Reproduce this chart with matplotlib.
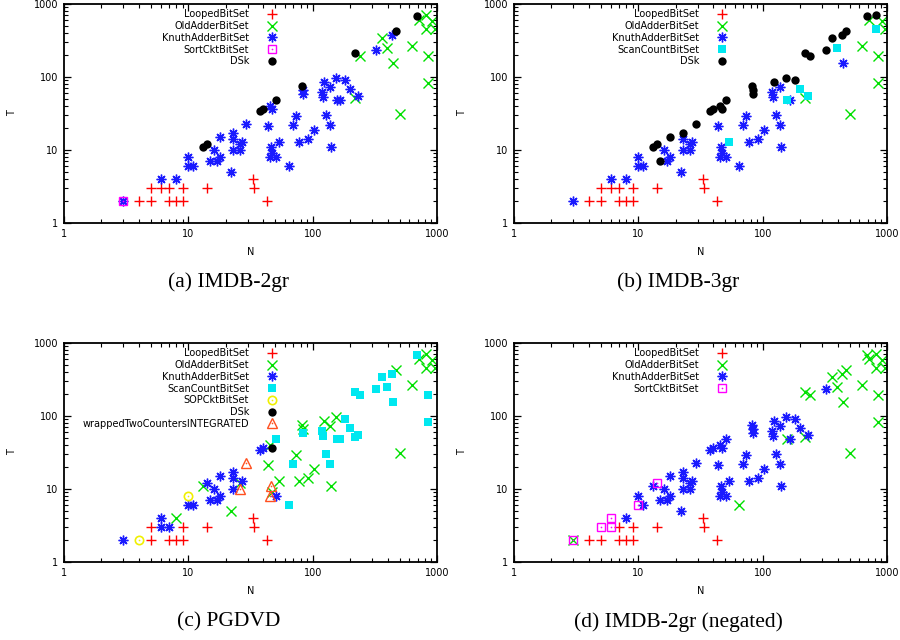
import matplotlib
matplotlib.use("Agg")
import matplotlib.pyplot as plt
from matplotlib.ticker import LogLocator, FuncFormatter, NullFormatter

# Query points (N, T) shared by all four datasets.
n_values = [3, 3, 4, 5, 5, 6, 6, 7, 7, 8, 8, 9, 9, 14, 33, 34, 43,
            10, 10, 11, 13, 14, 15, 16, 17, 18, 18, 22, 23, 23, 23, 26, 26, 27, 29,
            38, 40, 45, 47, 44, 46, 45, 47, 51, 51, 54, 65, 70, 74, 77, 82, 84, 84,
            92, 103, 119, 120, 123, 128, 138, 139, 140, 153, 156, 166, 183, 198, 230, 220, 220, 241,
            325, 360, 396, 434, 442, 468, 500, 630, 690, 713, 816, 820, 847, 847, 912, 956]
t_values = [2, 2, 2, 2, 3, 3, 4, 3, 2, 2, 4, 3, 2, 3, 4, 3, 2,
            8, 6, 6, 11, 12, 7, 10, 7, 8, 15, 5, 17, 14, 10, 10, 12, 13, 23,
            34, 36, 40, 36, 21, 11, 8, 9, 8, 49, 13, 6, 22, 29, 13, 76, 67, 59,
            14, 19, 62, 54, 85, 30, 72, 22, 11, 96, 49, 49, 92, 68, 55, 52, 213, 196,
            237, 340, 250, 380, 155, 422, 31, 263, 692, 610, 714, 455, 192, 83, 580, 450]

# Fastest method per query point ('-' = not shown).
# L looped, O old adder, K knuth adder, S sort circuit, C scan count,
# P SOP circuit, D DSk, W wrapped two counters
winners_imdb2 = ("SKLLLLKLLLKLLLLLL" "KKKDDKKKKKKKKKKKKK" "DDKKKKKKKDKKKKKDKK"
                 "KKKKKKKKKKKKKKKODO" "KOOKODOODOOOOOOO")
winners_imdb3 = ("K-LLLLKLLLKLLLLLL" "KKKDDDKKKDKDKKKKKD" "DDDDKKKKKDCKKKKDDD"
                 "KKKKDKKKKDCKDCCODD" "DDCDKDOODODCOOOO")
winners_pgdvd = ("K-PLLKKKLLOLLLLLL" "PKKOKKKKKKOKKKWOKW" "KKODOWWOKCOCCOOOOC"
                 "OOCCOCOCOOCCCCCCCC" "CCCCCOOOCOOOCCOO")
winners_imdb2_neg = ("SOLLSSSLLLKLLLLLL" "KSKKSKKKKKKKKKKKKK" "KKKKKKKKKKKOKKKKKK"
                     "KKKKKKKKKKOKKKKOOO" "KOOOOOOOOOOOOOOO")

panel_titles = ["(a) IMDB-2gr", "(b) IMDB-3gr", "(c) PGDVD", "(d) IMDB-2gr (negated)"]
panel_series = ["LOKSD", "LOKCD", "LOKCPDW", "LOKS"]
panel_winners = [winners_imdb2, winners_imdb3, winners_pgdvd, winners_imdb2_neg]

series_labels = {
    "L": "LoopedBitSet",
    "O": "OldAdderBitSet",
    "K": "KnuthAdderBitSet",
    "S": "SortCktBitSet",
    "C": "ScanCountBitSet",
    "P": "SOPCktBitSet",
    "D": "DSk",
    "W": "wrappedTwoCountersINTEGRATED",
}

# gnuplot-like point styles; open symbols get a small centre dot
series_styles = {
    "L": dict(marker="+", color="#ff0000", markersize=7, markeredgewidth=1.0),
    "O": dict(marker="x", color="#00e000", markersize=6.5, markeredgewidth=1.0),
    "K": dict(marker=(8, 2, 0), color="#1a1aff", markersize=7, markeredgewidth=1.0),
    "S": dict(marker="s", color="#ff00ff", markersize=6, markeredgewidth=1.0,
              markerfacecolor="none"),
    "C": dict(marker="s", color="#00e8f0", markersize=6, markeredgewidth=0),
    "P": dict(marker="o", color="#f0f000", markersize=6, markeredgewidth=1.2,
              markerfacecolor="none"),
    "D": dict(marker="o", color="black", markersize=6, markeredgewidth=0),
    "W": dict(marker="^", color="#ff5020", markersize=6.5, markeredgewidth=1.0,
              markerfacecolor="none"),
}
open_series = {"S", "P", "W"}

fig = plt.figure(figsize=(9, 6.4), dpi=100)

# axes rectangles in figure fractions
ax_w, ax_h = 373 / 900, 219 / 640
ax_positions = [
    (64 / 900, 1 - 223 / 640),
    (514 / 900, 1 - 223 / 640),
    (64 / 900, 1 - 562 / 640),
    (514 / 900, 1 - 562 / 640),
]
caption_positions = [(229 / 900, 1 - 282 / 640), (678 / 900, 1 - 282 / 640),
                     (229 / 900, 1 - 622 / 640), (678 / 900, 1 - 622 / 640)]

for i in range(4):
    ax = fig.add_axes([ax_positions[i][0], ax_positions[i][1], ax_w, ax_h])
    winners = panel_winners[i]
    handles = []
    for code in panel_series[i]:
        xs = [n for n, w in zip(n_values, winners) if w == code]
        ys = [t for t, w in zip(t_values, winners) if w == code]
        style = series_styles[code]
        line, = ax.plot(xs, ys, linestyle="none", **style)
        if code in open_series:
            dot, = ax.plot(xs, ys, linestyle="none", marker="o", markersize=1.2,
                           color=style["color"], markeredgewidth=0)
            handles.append((line, dot))
        else:
            handles.append(line)

    ax.set_xscale("log")
    ax.set_yscale("log")
    ax.set_xlim(1, 1000)
    ax.set_ylim(1, 1000)

    for axis in (ax.xaxis, ax.yaxis):
        axis.set_major_locator(LogLocator(base=10))
        axis.set_minor_locator(LogLocator(base=10, subs=range(2, 10)))
        axis.set_major_formatter(FuncFormatter(lambda v, _: f"{v:g}"))
        axis.set_minor_formatter(NullFormatter())

    ax.tick_params(which="both", direction="in", top=True, right=True,
                   labelsize=7, pad=4, colors="black")
    ax.tick_params(which="major", length=5, width=0.9)
    ax.tick_params(which="minor", length=3, width=0.8)
    for spine in ax.spines.values():
        spine.set_linewidth(1.3)

    ax.set_xlabel("N", fontsize=7)
    ax.set_ylabel("T", fontsize=7)
    ax.xaxis.set_label_coords(0.5, -0.11)
    ax.yaxis.set_label_coords(-0.125, 0.5)

    ax.legend(handles, [series_labels[c] for c in panel_series[i]],
              loc="upper right", bbox_to_anchor=(0.577, 0.976),
              frameon=False, markerfirst=False, fontsize=7,
              borderpad=0, borderaxespad=0, handlelength=1.5,
              handletextpad=1.6, labelspacing=0.18)

    fig.text(caption_positions[i][0], caption_positions[i][1], panel_titles[i],
             ha="center", va="center", fontsize=15.5, family="Liberation Serif")

fig.savefig("out.png", dpi=100)
